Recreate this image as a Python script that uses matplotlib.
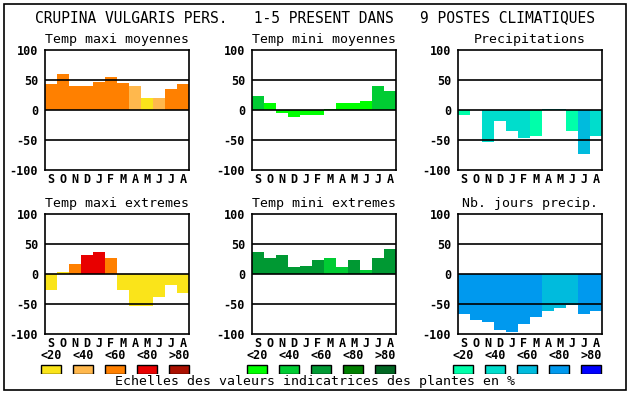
import matplotlib
matplotlib.use("Agg")
import matplotlib.pyplot as plt
from matplotlib.patches import Rectangle

months = ["S", "O", "N", "D", "J", "F", "M", "A", "M", "J", "J", "A"]
classes = ["<20", "<40", "<60", "<80", ">80"]

title = "CRUPINA VULGARIS PERS.   1-5 PRESENT DANS   9 POSTES CLIMATIQUES"
footer = "Echelles des valeurs indicatrices des plantes en %"

# indicator values per month, with the class (0..4) of each bar
tmax_moy = [43, 60, 40, 40, 47, 55, 45, 40, 20, 20, 35, 43]
tmax_moy_cls = [2, 2, 2, 2, 2, 2, 2, 1, 0, 1, 2, 2]
tmin_moy = [23, 11, -5, -11, -8, -8, 2, 11, 11, 15, 40, 32]
tmin_moy_cls = [1, 0, 0, 0, 0, 0, 0, 0, 0, 0, 1, 1]
precip = [-8, 0, -54, -18, -35, -46, -43, 2, 2, -35, -74, -43]
precip_cls = [0, 0, 1, 1, 1, 1, 0, 1, 1, 0, 2, 1]
tmax_ext = [-27, 4, 17, 32, 37, 26, -26, -54, -54, -38, -18, -31]
tmax_ext_cls = [0, 0, 2, 3, 3, 2, 0, 0, 0, 0, 0, 0]
tmin_ext = [37, 26, 31, 11, 14, 24, 27, 12, 24, 6, 27, 41]
tmin_ext_cls = [2, 2, 2, 2, 2, 2, 1, 1, 2, 1, 2, 2]
nb_jours = [-66, -76, -80, -94, -96, -84, -71, -61, -57, -52, -66, -61]
nb_jours_cls = [3, 3, 3, 3, 3, 3, 3, 2, 2, 2, 3, 3]

pal_tmax = ["#FAE41A", "#FFB84D", "#FF8000", "#E80000", "#AA1000"]
pal_tmin = ["#00FF00", "#00CC33", "#009933", "#007F00", "#006622"]
pal_prec = ["#00FFAA", "#00DDCC", "#00BBDD", "#0099EE", "#0000FF"]

W, H = 630, 394
MONO = "DejaVu Sans Mono"


def fx(px):
    return px / W


def fy(py):
    return 1 - py / H


def panel(fig, left, top, name, vals, cls, pal):
    ax = fig.add_axes([fx(left), fy(top + 120), fx(144), 120 / H])
    ax.bar(range(12), vals, width=1.0, align="edge",
           color=[pal[c] for c in cls], zorder=1)
    for y in (50, 0, -50):
        ax.axhline(y, color="black", lw=1.2, zorder=2)
    ax.set_xlim(0, 12)
    ax.set_ylim(-100, 100)
    ax.set_yticks([100, 50, 0, -50, -100])
    ax.set_yticklabels(["100", "50", "0", "-50", "-100"],
                       family=MONO, fontsize=8.5, fontweight="bold")
    ax.set_xticks([i + 0.5 for i in range(12)])
    ax.set_xticklabels(months, family=MONO, fontsize=8.5, fontweight="bold")
    ax.tick_params(length=0, pad=2)
    ax.tick_params(axis="y", pad=5)
    for s in ax.spines.values():
        s.set_linewidth(1.2)
    ax.text(0.5, 1.03, name, transform=ax.transAxes, ha="center",
            va="bottom", family=MONO, fontsize=9.5)
    return ax


def legend(fig, left, pal):
    ax = fig.add_axes([fx(left), fy(374), fx(160), 24 / H])
    ax.bar([i + 0.5 for i in range(5)], [1] * 5, width=0.63,
           color=pal, edgecolor="black", linewidth=1.0)
    for i, c in enumerate(classes):
        ax.text(i + 0.5, 2.1, c, ha="center", va="center",
                family=MONO, fontsize=8.5, fontweight="bold")
    ax.set_xlim(0, 5)
    ax.set_ylim(0, 2.67)
    ax.axis("off")


def main():
    fig = plt.figure(figsize=(W / 100, H / 100), dpi=100)

    fig.patches.append(Rectangle((fx(4), fy(390)), fx(622), 386 / H,
                                 transform=fig.transFigure, fill=False,
                                 edgecolor="black", lw=1.2))

    fig.text(0.5, fy(18), title, ha="center", va="center",
             family=MONO, fontsize=10.5)

    lefts = [45, 252, 458]
    panel(fig, lefts[0], 50, "Temp maxi moyennes", tmax_moy, tmax_moy_cls, pal_tmax)
    panel(fig, lefts[1], 50, "Temp mini moyennes", tmin_moy, tmin_moy_cls, pal_tmin)
    panel(fig, lefts[2], 50, "Precipitations", precip, precip_cls, pal_prec)
    panel(fig, lefts[0], 214, "Temp maxi extremes", tmax_ext, tmax_ext_cls, pal_tmax)
    panel(fig, lefts[1], 214, "Temp mini extremes", tmin_ext, tmin_ext_cls, pal_tmin)
    panel(fig, lefts[2], 214, "Nb. jours precip.", nb_jours, nb_jours_cls, pal_prec)

    legend(fig, 35, pal_tmax)
    legend(fig, 241, pal_tmin)
    legend(fig, 447, pal_prec)

    fig.text(fx(315), fy(382), footer, ha="center", va="center",
             family=MONO, fontsize=9.5)

    fig.savefig("out.png", dpi=100)


if __name__ == "__main__":
    main()
